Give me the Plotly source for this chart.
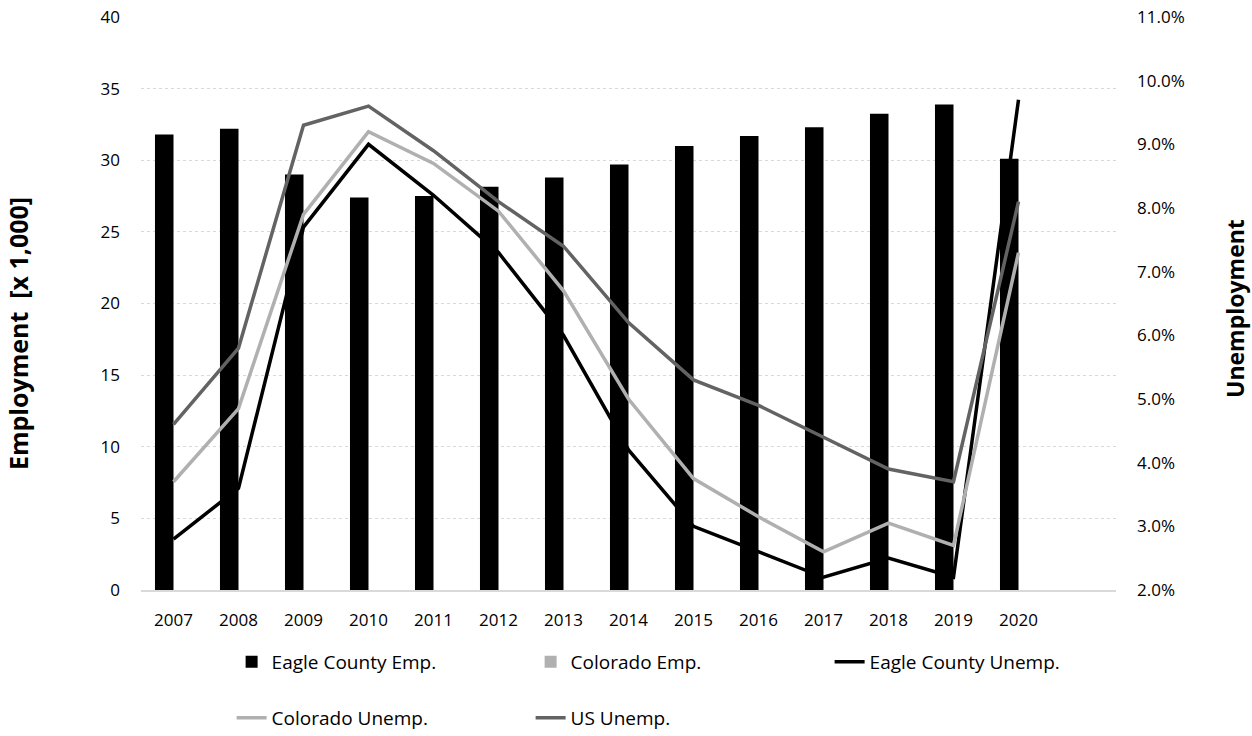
import plotly.graph_objects as go

# Annual series, 2007-2020
years = ["2007", "2008", "2009", "2010", "2011", "2012", "2013",
         "2014", "2015", "2016", "2017", "2018", "2019", "2020"]

# Employment, thousands of jobs
eagle_emp = [31.8, 32.2, 29.0, 27.4, 27.5, 28.15, 28.8,
             29.7, 31.0, 31.7, 32.3, 33.25, 33.9, 30.1]
colorado_emp = [None] * len(years)

# Unemployment rate, percent
eagle_unemp = [2.8, 3.6, 7.7, 9.0, 8.2, 7.3, 6.0,
               4.2, 3.0, 2.6, 2.2, 2.5, 2.2, 9.7]
colorado_unemp = [3.7, 4.85, 7.9, 9.2, 8.7, 7.95, 6.7,
                  5.0, 3.75, 3.15, 2.6, 3.05, 2.7, 7.3]
us_unemp = [4.6, 5.8, 9.3, 9.6, 8.9, 8.1, 7.4,
            6.2, 5.3, 4.9, 4.4, 3.9, 3.7, 8.1]

left_ticks = [0, 5, 10, 15, 20, 25, 30, 35, 40]
right_ticks = [2, 3, 4, 5, 6, 7, 8, 9, 10, 11]

FONT = "Open Sans"
GRID = "#d9d9d9"
TICK = dict(family=FONT, size=17, color="#000000")

W, H = 1252, 736
ML, MR, MT, MB = 141, 136, 17, 146


def paper_x(px):
    return (px - ML) / (W - ML - MR)


def paper_y(py):
    return (H - MB - py) / (H - MT - MB)


fig = go.Figure()

fig.add_trace(go.Bar(x=years, y=eagle_emp, name="Eagle County Emp.",
                     marker=dict(color="#000000", line=dict(width=0)),
                     legend="legend"))
fig.add_trace(go.Bar(x=years, y=colorado_emp, name="Colorado Emp.",
                     marker=dict(color="#b0b0b0", line=dict(width=0)),
                     legend="legend"))
fig.add_trace(go.Scatter(x=years, y=eagle_unemp, name="Eagle County Unemp.",
                         mode="lines", yaxis="y2",
                         line=dict(color="#000000", width=3.5),
                         legend="legend"))
fig.add_trace(go.Scatter(x=years, y=colorado_unemp, name="Colorado Unemp.",
                         mode="lines", yaxis="y2",
                         line=dict(color="#b0b0b0", width=3.5),
                         legend="legend2"))
fig.add_trace(go.Scatter(x=years, y=us_unemp, name="US Unemp.",
                         mode="lines", yaxis="y2",
                         line=dict(color="#636363", width=3.5),
                         legend="legend2"))

legend_common = dict(
    orientation="h", xanchor="left", yanchor="middle",
    xref="container", yref="container",
    x=0.185, entrywidth=254, entrywidthmode="pixels",
    font=dict(family=FONT, size=19, color="#000000"),
    bgcolor="rgba(0,0,0,0)", traceorder="normal",
)

fig.update_layout(
    width=W, height=H,
    margin=dict(l=ML, r=MR, t=MT, b=MB, autoexpand=False),
    paper_bgcolor="white", plot_bgcolor="white",
    font=dict(family=FONT, size=17, color="#000000"),
    barmode="group", bargap=0.43, bargroupgap=0,
    showlegend=True,
    legend=dict(y=1 - 662 / H, **legend_common),
    legend2=dict(y=1 - 718 / H, **legend_common),
    xaxis=dict(
        type="category", range=[-0.5, 14.5],
        tickvals=years, ticktext=years,
        showgrid=False, showline=True, linecolor=GRID, linewidth=1.5,
        ticks="", tickfont=TICK, ticklabelstandoff=14,
    ),
    yaxis=dict(
        range=[0, 40], tickvals=left_ticks,
        showgrid=True, gridcolor=GRID, griddash="dot", gridwidth=1,
        zeroline=False, showline=False, ticks="",
        ticklabelstandoff=20, tickfont=TICK,
    ),
    yaxis2=dict(
        overlaying="y", side="right",
        range=[2, 11], tickvals=right_ticks,
        ticktext=[f"{v:.1f}%" for v in right_ticks],
        showgrid=False, zeroline=False, showline=False, ticks="",
        ticklabelstandoff=20, tickfont=TICK,
    ),
    annotations=[
        dict(text="<b>Employment&nbsp;&nbsp;[x 1,000]</b>", textangle=-90,
             xref="paper", yref="paper", x=paper_x(18), y=paper_y(334),
             showarrow=False, xanchor="center", yanchor="middle",
             font=dict(family=FONT, size=25, color="#000000")),
        dict(text="<b>Unemployment</b>", textangle=-90,
             xref="paper", yref="paper", x=paper_x(1235), y=paper_y(309),
             showarrow=False, xanchor="center", yanchor="middle",
             font=dict(family=FONT, size=23, color="#000000")),
    ],
)

fig.write_html("out.html")
